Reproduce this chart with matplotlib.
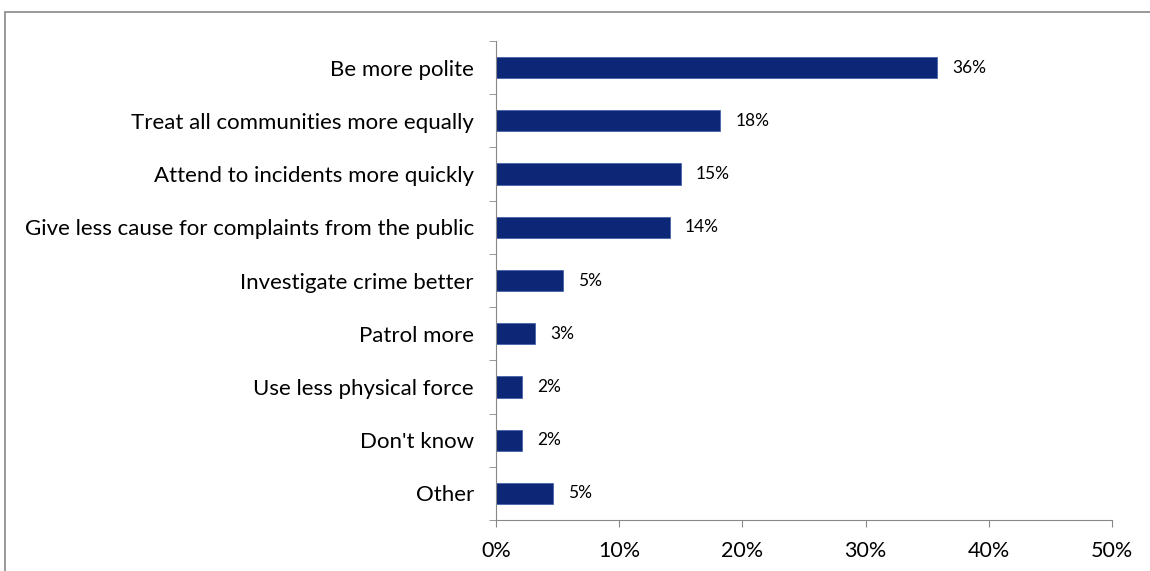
import matplotlib.pyplot as plt
from matplotlib.patches import Rectangle

categories = [
    "Be more polite",
    "Treat all communities more equally",
    "Attend to incidents more quickly",
    "Give less cause for complaints from the public",
    "Investigate crime better",
    "Patrol more",
    "Use less physical force",
    "Don't know",
    "Other",
]
values = [35.8, 18.2, 15.0, 14.1, 5.4, 3.2, 2.1, 2.1, 4.6]
labels = ["36%", "18%", "15%", "14%", "5%", "3%", "2%", "2%", "5%"]
xticks = [0, 10, 20, 30, 40, 50]

plt.rcParams["font.family"] = ["Lato", "DejaVu Sans"]

fig = plt.figure(figsize=(11.5, 5.71), dpi=100)
ax = fig.add_axes([0.4313, 0.0893, 0.5357, 0.8389])

ypos = list(range(len(categories)))
ax.barh(ypos, values, height=0.4, color="#0D2776", edgecolor="#3A5AA8", linewidth=0.5)
for y, v, lab in zip(ypos, values, labels):
    ax.annotate(lab, (v, y), xytext=(11, 0), textcoords="offset points",
                va="center", ha="left", fontsize=12.5)

ax.set_ylim(len(categories) - 0.5, -0.5)
ax.set_xlim(0, 50)
ax.set_yticks(ypos)
ax.set_yticklabels(categories, fontsize=16)
ax.set_yticks([i - 0.5 for i in range(len(categories) + 1)], minor=True)
ax.tick_params(axis="y", which="major", length=0, pad=16)
ax.tick_params(axis="y", which="minor", length=5, color="#888888", direction="out")
ax.set_xticks(xticks)
ax.set_xticklabels([f"{t}%" for t in xticks], fontsize=15.5)
ax.tick_params(axis="x", length=5, color="#888888", direction="out", pad=10)

for s in ["top", "right"]:
    ax.spines[s].set_visible(False)
for s in ["left", "bottom"]:
    ax.spines[s].set_color("#888888")

# outer chart border
fig.patches.append(Rectangle((5 / 1150, -0.01), 1.02, 1 - 12 / 571 + 0.01,
                             transform=fig.transFigure, fill=False,
                             edgecolor="#888888", linewidth=1.2))

fig.savefig("out.png", dpi=100)
